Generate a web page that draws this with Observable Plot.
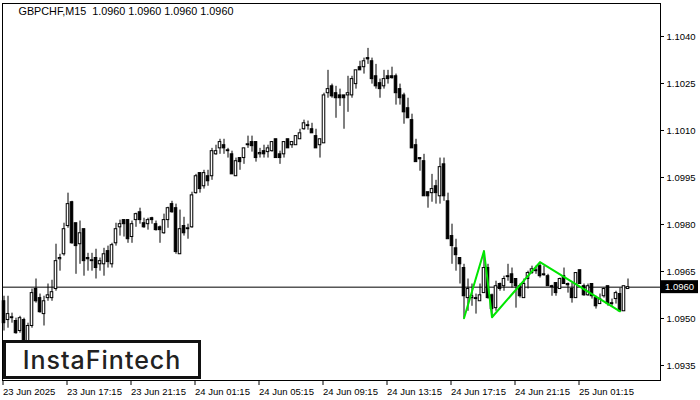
<!DOCTYPE html>
<html><head><meta charset="utf-8">
<script src="https://cdn.jsdelivr.net/npm/d3@7"></script>
<script src="https://cdn.jsdelivr.net/npm/@observablehq/plot@0.6"></script>
<style>
html,body{margin:0;padding:0;background:#fff;}
#wrap{position:relative;width:700px;height:400px;overflow:hidden;background:#fff;}
#logo{position:absolute;left:3px;top:340px;width:198px;height:39px;box-sizing:border-box;border:3px solid #111;background:#fff;display:flex;align-items:center;justify-content:center;font-family:Inter,sans-serif;font-weight:500;font-size:25px;letter-spacing:1px;color:#222;}
</style></head><body><div id="wrap"></div>
<script>
const symbol = "GBPCHF,M15";
const titleValues = [1.0960, 1.0960, 1.0960, 1.0960];
const lastPrice = 1.0960;

const open = [
1.09555,1.09495,1.09501,1.09492,1.09460,1.09495,1.09428,1.09476,1.09594,1.09565,
1.09514,1.09565,1.09565,1.09594,1.09689,1.09705,1.09795,1.09871,1.09804,1.09737,
1.09785,1.09693,1.09683,1.09693,1.09673,1.09673,1.09715,1.09673,1.09740,1.09791,
1.09814,1.09814,1.09760,1.09814,1.09839,1.09804,1.09801,1.09820,1.09801,1.09791,
1.09772,1.09814,1.09865,1.09852,1.09705,1.09795,1.09785,1.09791,1.09900,1.09964,
1.09922,1.09954,1.09954,1.10024,1.10043,1.10053,1.10034,1.10024,1.09954,1.10012,
1.10012,1.10053,1.10063,1.10063,1.10024,1.10034,1.10031,1.10034,1.10072,1.10024,
1.10024,1.10072,1.10053,1.10053,1.10072,1.10104,1.10114,1.10104,1.10082,1.10053,
1.10059,1.10219,1.10241,1.10219,1.10212,1.10212,1.10212,1.10212,1.10248,1.10302,
1.10302,1.10331,1.10321,1.10273,1.10251,1.10241,1.10273,1.10273,1.10273,1.10232,
1.10212,1.10171,1.10133,1.10053,1.10012,1.10002,1.09903,1.09900,1.09922,1.09890,
1.09992,1.09874,1.09763,1.09724,1.09693,1.09661,1.09565,1.09565,1.09565,1.09555,
1.09581,1.09661,1.09574,1.09533,1.09610,1.09603,1.09635,1.09641,1.09626,1.09603,
1.09565,1.09626,1.09645,1.09651,1.09667,1.09641,1.09635,1.09603,1.09613,1.09594,
1.09635,1.09610,1.09594,1.09565,1.09654,1.09603,1.09574,1.09610,1.09565,1.09546,
1.09571,1.09603,1.09546,1.09562,1.09578,1.09523,1.09594];
const high = [
1.09571,1.09571,1.09517,1.09501,1.09507,1.09501,1.09485,1.09594,1.09626,1.09578,
1.09571,1.09610,1.09622,1.09737,1.09705,1.09804,1.09900,1.09874,1.09804,1.09811,
1.09785,1.09708,1.09708,1.09721,1.09693,1.09724,1.09731,1.09740,1.09804,1.09814,
1.09814,1.09814,1.09811,1.09836,1.09852,1.09820,1.09820,1.09823,1.09811,1.09795,
1.09833,1.09855,1.09874,1.09865,1.09846,1.09823,1.09801,1.09903,1.09960,1.09964,
1.09973,1.09973,1.10043,1.10053,1.10072,1.10072,1.10043,1.10034,1.10012,1.10012,
1.10043,1.10082,1.10082,1.10063,1.10043,1.10053,1.10053,1.10063,1.10072,1.10034,
1.10063,1.10072,1.10063,1.10082,1.10104,1.10133,1.10130,1.10123,1.10104,1.10072,
1.10219,1.10292,1.10248,1.10241,1.10232,1.10212,1.10273,1.10273,1.10292,1.10321,
1.10331,1.10362,1.10331,1.10311,1.10264,1.10292,1.10292,1.10302,1.10280,1.10248,
1.10219,1.10203,1.10152,1.10072,1.10012,1.10024,1.09903,1.09960,1.09941,1.10012,
1.10012,1.09900,1.09801,1.09753,1.09693,1.09673,1.09626,1.09610,1.09578,1.09610,
1.09715,1.09673,1.09578,1.09619,1.09613,1.09635,1.09673,1.09661,1.09626,1.09610,
1.09626,1.09651,1.09667,1.09667,1.09677,1.09667,1.09641,1.09606,1.09613,1.09629,
1.09661,1.09613,1.09613,1.09645,1.09654,1.09610,1.09610,1.09610,1.09571,1.09578,
1.09597,1.09603,1.09562,1.09587,1.09597,1.09603,1.09626];
const low = [
1.09460,1.09469,1.09485,1.09450,1.09453,1.09412,1.09348,1.09469,1.09549,1.09517,
1.09476,1.09555,1.09555,1.09587,1.09651,1.09699,1.09788,1.09737,1.09641,1.09673,
1.09635,1.09651,1.09651,1.09626,1.09651,1.09635,1.09661,1.09661,1.09731,1.09763,
1.09760,1.09740,1.09740,1.09791,1.09801,1.09788,1.09782,1.09801,1.09779,1.09740,
1.09769,1.09788,1.09836,1.09705,1.09705,1.09763,1.09753,1.09788,1.09897,1.09900,
1.09913,1.09922,1.09941,1.10021,1.10024,1.10024,1.10012,1.09960,1.09954,1.09973,
1.09992,1.10043,1.10031,1.09999,1.10012,1.10012,1.10012,1.10031,1.10012,1.09992,
1.10012,1.10043,1.10043,1.10053,1.10072,1.10101,1.10101,1.10091,1.10043,1.10012,
1.10059,1.10203,1.10203,1.10139,1.10177,1.10104,1.10158,1.10203,1.10232,1.10292,
1.10280,1.10311,1.10248,1.10232,1.10203,1.10232,1.10248,1.10264,1.10181,1.10181,
1.10120,1.10139,1.10043,1.09999,1.09970,1.09890,1.09852,1.09871,1.09865,1.09865,
1.09874,1.09753,1.09673,1.09651,1.09610,1.09501,1.09523,1.09539,1.09514,1.09555,
1.09581,1.09562,1.09504,1.09523,1.09587,1.09587,1.09619,1.09597,1.09533,1.09565,
1.09565,1.09594,1.09641,1.09641,1.09629,1.09635,1.09603,1.09571,1.09571,1.09594,
1.09610,1.09581,1.09549,1.09565,1.09610,1.09571,1.09571,1.09562,1.09530,1.09546,
1.09565,1.09539,1.09539,1.09546,1.09523,1.09523,1.09594];
const close = [
1.09485,1.09514,1.09504,1.09453,1.09501,1.09428,1.09476,1.09581,1.09555,1.09520,
1.09555,1.09574,1.09584,1.09683,1.09693,1.09785,1.09865,1.09740,1.09731,1.09772,
1.09683,1.09689,1.09686,1.09661,1.09683,1.09705,1.09680,1.09734,1.09785,1.09801,
1.09801,1.09753,1.09801,1.09833,1.09814,1.09791,1.09814,1.09814,1.09782,1.09782,
1.09814,1.09852,1.09839,1.09712,1.09785,1.09772,1.09788,1.09893,1.09954,1.09913,
1.09964,1.09938,1.10034,1.10034,1.10063,1.10043,1.10037,1.09960,1.10002,1.09999,
1.10043,1.10056,1.10050,1.10012,1.10028,1.10024,1.10043,1.10063,1.10012,1.10012,
1.10063,1.10043,1.10063,1.10082,1.10091,1.10123,1.10117,1.10091,1.10043,1.10072,
1.10212,1.10232,1.10209,1.10203,1.10203,1.10203,1.10219,1.10264,1.10292,1.10292,
1.10321,1.10327,1.10264,1.10241,1.10232,1.10264,1.10264,1.10267,1.10219,1.10203,
1.10158,1.10139,1.10043,1.09999,1.10008,1.09890,1.09890,1.09913,1.09900,1.09983,
1.09890,1.09753,1.09731,1.09702,1.09673,1.09571,1.09594,1.09571,1.09562,1.09574,
1.09661,1.09565,1.09530,1.09603,1.09594,1.09626,1.09632,1.09613,1.09603,1.09571,
1.09610,1.09645,1.09657,1.09654,1.09635,1.09638,1.09603,1.09600,1.09581,1.09626,
1.09610,1.09606,1.09565,1.09645,1.09610,1.09574,1.09603,1.09571,1.09539,1.09562,
1.09594,1.09546,1.09549,1.09581,1.09523,1.09603,1.09600];

const tickIndex = [0, 16, 32, 48, 64, 80, 96, 112, 128, 144];
const tickLabels = ["23 Jun 2025", "23 Jun 17:15", "23 Jun 21:15", "24 Jun 01:15", "24 Jun 05:15",
  "24 Jun 09:15", "24 Jun 13:15", "24 Jun 17:15", "24 Jun 21:15", "25 Jun 01:15"];
const priceTicks = [1.0935, 1.0950, 1.0965, 1.0980, 1.0995, 1.1010, 1.1025, 1.1040];

const patternIndex = [115, 120, 122, 134, 154];
const patternPrice = [1.09501, 1.09715, 1.09504, 1.09680, 1.09523];

const candles = open.map((o, i) => ({i, o, h: high[i], l: low[i], c: close[i], up: close[i] >= o}));
const pattern = patternIndex.map((i, k) => ({i, p: patternPrice[k]}));
const fmt4 = d3.format(".4f");
const title = symbol + "\u00a0 " + titleValues.map(fmt4).join(" ");

const priceBox = (index, scales, values, dims) => {
  const g = d3.create("svg:g");
  const y = scales.y(lastPrice);
  const x0 = dims.width - dims.marginRight;
  g.append("rect").attr("x", x0 + 1).attr("y", y - 6.5).attr("width", 37).attr("height", 13).attr("fill", "#000");
  g.append("text").attr("x", x0 + 5).attr("y", y).attr("dy", "0.35em").attr("fill", "#fff")
    .attr("text-anchor", "start").attr("font-size", "9.5px").text(fmt4(lastPrice));
  return g.node();
};

const chart = Plot.plot({
  width: 700,
  height: 400,
  marginLeft: 2,
  marginRight: 40,
  marginTop: 3,
  marginBottom: 20,
  style: {fontFamily: "'Liberation Sans', Arial, sans-serif", fontSize: "9.5px", background: "#fff", color: "#000"},
  x: {domain: [-0.375, 164.125]},
  y: {domain: [1.093021, 1.105053]},
  marks: [
    Plot.ruleY([lastPrice], {stroke: "#000", strokeWidth: 1}),
    Plot.ruleX(candles, {x: "i", y1: "l", y2: "h", stroke: "#000", strokeWidth: 1}),
    Plot.rect(candles.filter(d => !d.up), {x1: d => d.i - 0.32, x2: d => d.i + 0.32, y1: "o", y2: "c", fill: "#000", stroke: "#000", strokeWidth: 1}),
    Plot.rect(candles.filter(d => d.up), {x1: d => d.i - 0.32, x2: d => d.i + 0.32, y1: "o", y2: "c", fill: "#fff", stroke: "#000", strokeWidth: 1}),
    Plot.line(pattern, {x: "i", y: "p", stroke: "#00e600", strokeWidth: 2}),
    Plot.frame({stroke: "#000"}),
    Plot.axisX({anchor: "bottom", ticks: tickIndex, tickFormat: d => tickLabels[tickIndex.indexOf(d)],
      tickSize: 5, tickPadding: 3, textAnchor: "start", dx: -1, label: null}),
    Plot.axisY({anchor: "right", ticks: priceTicks, tickFormat: fmt4, tickSize: 3, tickPadding: 3, label: null}),
    priceBox,
    Plot.text([title], {frameAnchor: "top-left", dx: 16, dy: 4, lineAnchor: "top", textAnchor: "start", fill: "#000", fontSize: 10.8})
  ]
});

const wrap = document.getElementById("wrap");
wrap.appendChild(chart);
const logo = document.createElement("div");
logo.id = "logo";
logo.textContent = "InstaFintech";
wrap.appendChild(logo);
</script>
</body></html>
